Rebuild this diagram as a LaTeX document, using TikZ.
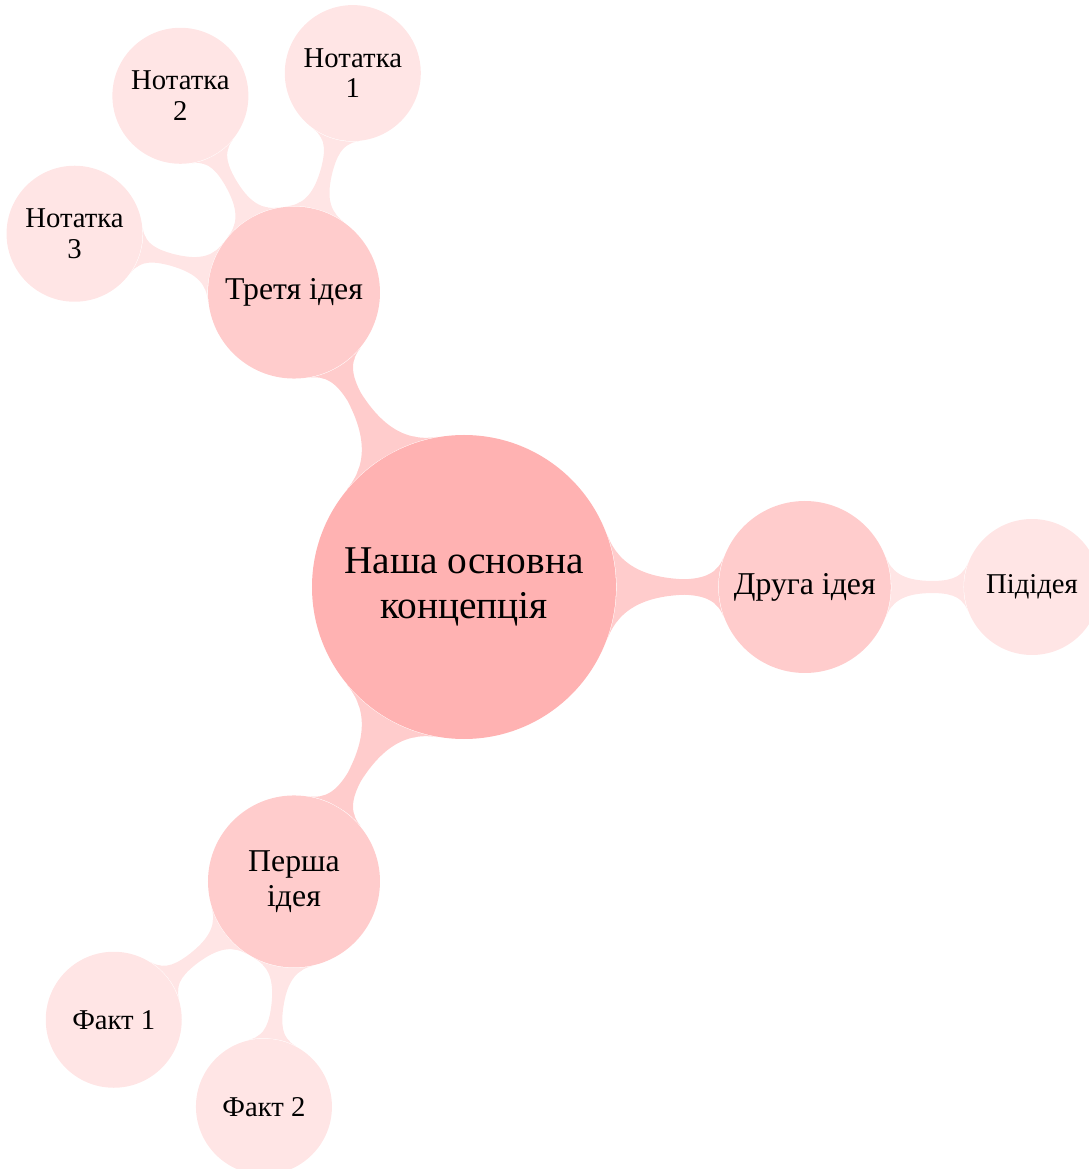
\documentclass[tikz,border=0pt]{standalone}
\usepackage{fontspec}
\setmainfont{Liberation Serif}
\usetikzlibrary{mindmap,backgrounds}

\tikzset{
  rootidea/.style={circle,fill=red!30,minimum size=3.8cm,inner sep=0pt,align=center,
    font=\fontsize{14}{16}\selectfont},
  mainidea/.style={circle,fill=red!20,minimum size=2.15cm,inner sep=0pt,align=center,
    font=\fontsize{11.3}{12.5}\selectfont},
  subidea/.style={circle,fill=red!10,minimum size=1.7cm,inner sep=0pt,align=center,
    font=\fontsize{10.2}{11}\selectfont},
  linkmain/.style={circle connection bar switch color=from (red!20) to (red!20)},
  linksub/.style={circle connection bar switch color=from (red!10) to (red!10)}
}

\begin{document}
\begin{tikzpicture}
\useasboundingbox (-5.8,-7.275) rectangle (7.8,7.3375);

\node[rootidea] (core) at (0,0) {Наша основна\\концепція};

% first level
\node[mainidea] (first) at (-120:4.25) {Перша\\ідея};
\node[mainidea] (second) at (0:4.26) {Друга ідея};
\node[mainidea] (third) at (120:4.25) {Третя ідея};

% second level
\node[subidea] (fact1) at ([shift={(217.5:2.84)}]first) {Факт 1};
\node[subidea] (fact2) at ([shift={(262.4:2.84)}]first) {Факт 2};
\node[subidea] (sub) at ([shift={(0:2.84)}]second) {Підідея};
\node[subidea] (note1) at ([shift={(75:2.84)}]third) {Нотатка\\1};
\node[subidea] (note2) at ([shift={(120:2.84)}]third) {Нотатка\\2};
\node[subidea] (note3) at ([shift={(165:2.84)}]third) {Нотатка\\3};

\begin{scope}[on background layer]
\path (core) to[linkmain] (first);
\path (core) to[linkmain] (second);
\path (core) to[linkmain] (third);
\path (first) to[linksub] (fact1);
\path (first) to[linksub] (fact2);
\path (second) to[linksub] (sub);
\path (third) to[linksub] (note1);
\path (third) to[linksub] (note2);
\path (third) to[linksub] (note3);
\end{scope}
\end{tikzpicture}
\end{document}
